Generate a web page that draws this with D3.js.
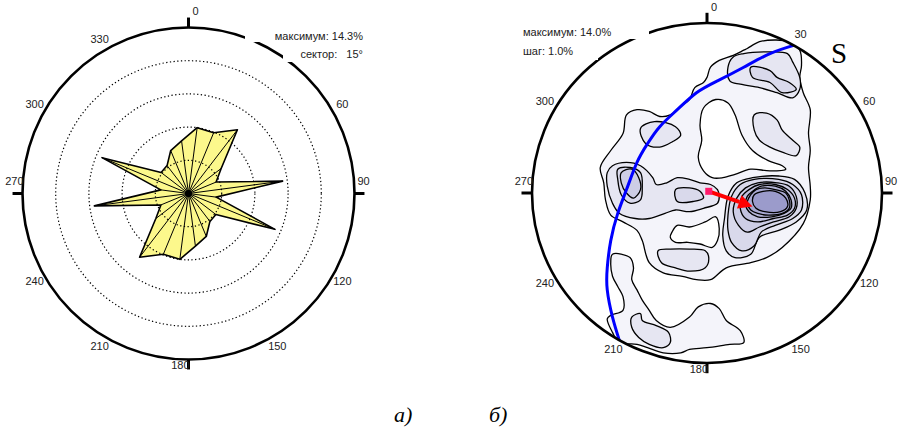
<html>
  <head>
    <script src="https://d3js.org/d3.v7.min.js"></script>
    <style>
      body { margin: 0; background: #fff; }
      text { font-family: "Liberation Sans", Arial, sans-serif; }
    </style>
  </head>
  <body>
<div id="my_dataviz"></div>
<script>
// ---- data: rose diagram (a) ----
// sector centres, 15 degree sectors
var sectorAngles = [7.5, 22.5, 37.5, 52.5, 67.5, 82.5, 97.5, 112.5, 127.5, 142.5, 157.5, 172.5,
                    187.5, 202.5, 217.5, 232.5, 247.5, 262.5, 277.5, 292.5, 307.5, 322.5, 337.5, 352.5];
// percent per sector (axial data, so the second half repeats the first)
var sectorValues = [10.0, 9.9, 12.1, 6.2, 4.5, 14.3, 4.2, 14.1, 5.2, 5.3, 7.0, 8.0,
                    10.0, 9.9, 12.1, 6.2, 4.5, 14.3, 4.2, 14.1, 5.2, 5.3, 7.0, 8.0];
var roseRings = [5, 10, 15, 20];
var roseLabels = ["0", "60", "90", "120", "150", "180", "210", "240", "270", "300", "330"];
var roseInfo = ["максимум: 14.3%", "сектор:   15°"];

// ---- data: contour diagram (б), points in % of net radius (east, north) ----
var stereoLabels = ["0", "30", "60", "90", "120", "150", "180", "210", "240", "270", "300"];
var stereoInfo = ["максимум: 14.0%", "шаг: 1.0%"];

var levelOneMain = [[23,85],[30,89],[39,90],[47,89],[53,84],[54,75],[53,68],[55,59],[59,49],[58,35],[59,25],[58,15],[59,4],[59,-4],[55,-18],[43,-32],[34,-38],[25,-41],[11,-44],[2,-51],[-6,-51],[-14,-49],[-25,-47],[-33,-41],[-37,-28],[-40,-22],[-48,-17],[-55,-13],[-58,-4],[-59,6],[-61,15],[-55,25],[-48,35],[-46,46],[-40,49],[-33,48],[-27,45],[-21,46],[-15,51],[-10,55],[-7,62],[-2,65],[0,68],[2,74],[7,78],[15,81],[21,84]];
var levelOneSouth = [[-54,-36],[-44,-38],[-42,-44],[-43,-51],[-40,-57],[-37,-63],[-33,-69],[-29,-75],[-21,-79],[-10,-73],[-5,-67],[2,-65],[7,-68],[11,-75],[19,-81],[21,-88],[13,-89],[0,-91],[-10,-92],[-15,-94],[-25,-94],[-34,-91],[-40,-89],[-50,-88],[-54,-82],[-57,-74],[-55,-72],[-48,-69],[-48,-61],[-51,-55],[-54,-49],[-55,-41]];
var holeMiddle = [[-4,40],[-2,50],[5,55],[12,53],[16,46],[20,34],[26,25],[35,19],[43,16],[45,14],[36,13],[25,14],[16,11],[9,9],[3,9],[-2,13],[-5,21],[-3,31]];
var holeLower = [[-20,-23],[-17,-19],[-10,-20],[-1,-17],[5,-14],[7,-21],[6,-28],[3,-32],[-4,-30],[-11,-29],[-18,-29],[-21,-26]];

var levelTwoRidge = [[-57,12],[-54,16],[-46,18],[-38,16],[-31,9],[-29,5],[-23,6],[-17,9],[-10,8],[-4,6],[2,5],[6,2],[7,-2],[6,-6],[-2,-9],[-10,-11],[-18,-10],[-24,-12],[-33,-15],[-41,-15],[-50,-12],[-54,-6],[-57,4]];
var levelTwoLens = [[-38,38],[-30,42],[-18,39],[-15,34],[-20,30],[-27,27],[-35,29]];
var levelTwoNorth = [[12,74],[13,66],[19,64],[30,62],[40,59],[49,56],[53,61],[53,68],[49,77],[46,82],[34,83],[21,82],[15,80]];
var levelTwoEast = [[27,46],[34,47],[40,43],[43,37],[49,31],[53,27],[51,22],[43,24],[36,27],[30,31],[27,37]];
var levelTwoOval = [[-28,-34],[-21,-33],[-10,-33],[-1,-34],[1,-38],[-1,-44],[-10,-46],[-18,-44],[-26,-41]];
var levelTwoSouth = [[-43,-73],[-38,-71],[-37,-75],[-29,-78],[-22,-82],[-21,-88],[-25,-91],[-33,-89],[-39,-85],[-43,-79]];
var levelTwoMain = [[10,-15],[12,-2],[17,6],[26,9],[41,10],[50,8],[56,0],[57,-10],[51,-17],[41,-22],[30,-26],[25,-36],[16,-38],[11,-34],[9,-25]];

var levelThreeNorth = [[25,74],[36,72],[40,68],[47,65],[51,61],[43,59],[36,65],[26,68]];
var levelThreeWest = [[-51,14],[-44,15],[-38,12],[-37,3],[-38,-4],[-44,-6],[-49,-1],[-51,8]];
var levelThreeRidge = [[-18,2],[-10,3],[-4,1],[-2,-3],[-8,-5],[-17,-5]];
var levelThreeMain = [[12,-13],[14,-2],[19,5],[27,8],[41,8],[49,5],[54,-1],[54,-10],[49,-15],[39,-19],[31,-23],[27,-31],[20,-34],[14,-29],[12,-22]];

var levelFourWest = [[-49,12],[-43,14],[-39,9],[-38,2],[-42,-3],[-46,0],[-49,6]];
var levelFourMain = [[15,-11],[17,-3],[22,3],[29,6],[40,6],[47,4],[51,-2],[51,-9],[47,-14],[38,-17],[30,-20],[23,-23],[18,-19]];
var levelFiveMain = [[19,-9],[20,-2],[24,2],[30,5],[39,5],[46,2],[50,-3],[50,-9],[46,-13],[38,-15],[29,-17],[22,-15]];
var levelSixMain = [[22,-7],[23,-2],[26,1],[31,4],[39,4],[45,1],[48,-4],[48,-9],[44,-12],[37,-14],[29,-14],[24,-11]];
var levelSevenMain = [[23,-6],[25,-1],[28,2],[33,3],[39,2],[45,0],[47,-4],[47,-9],[43,-12],[35,-13],[29,-12],[25,-10]];
var levelCoreMain = [[26,-5],[27,-1],[32,1],[39,1],[45,-3],[46,-8],[42,-11],[33,-11],[28,-9]];

var greatCircle = [[50,87],[36,82],[21,74],[6,66],[-6,59],[-17,49],[-27,39],[-34,29],[-40,18],[-46,2],[-51,-12],[-55,-28],[-57,-44],[-57,-57],[-54,-73],[-50,-87]];
var arrowFrom = [1, 1];
var arrowTo = [26, -8];

var levelFills = ["#ffffff", "#f4f4fa", "#e6e6f2", "#d9d9eb", "#cdcde5", "#c1c1de", "#b5b5d7", "#a9a9d1", "#9b9bcb"];

var svg = d3.select("#my_dataviz")
  .append("svg")
    .attr("width", 898)
    .attr("height", 427);

// ================= (a) rose diagram =================
var roseCx = 188.5, roseCy = 193.5, roseR = 166;
var lx = d3.scaleLinear().domain([-100, 100]).range([roseCx - roseR, roseCx + roseR]);
var ly = d3.scaleLinear().domain([-100, 100]).range([roseCy + roseR, roseCy - roseR]);
var rr = d3.scaleLinear().domain([0, 25]).range([0, roseR]);

var rose = svg.append("g").attr("transform", "translate(" + roseCx + "," + roseCy + ")");
var roseData = sectorAngles.map(function (a, i) { return {angle: a, value: sectorValues[i]}; });

rose.append("path")
  .datum(roseData)
  .attr("d", d3.lineRadial()
      .angle(function (d) { return d.angle * Math.PI / 180; })
      .radius(function (d) { return rr(d.value); })
      .curve(d3.curveLinearClosed))
  .attr("fill", "#fcf88c")
  .attr("stroke", "black")
  .attr("stroke-width", 1.6)
  .attr("stroke-linejoin", "round");

rose.selectAll(".spoke")
  .data(roseData)
  .enter()
  .append("line")
    .attr("x1", 0).attr("y1", 0)
    .attr("x2", function (d) { return rr(d.value) * Math.sin(d.angle * Math.PI / 180); })
    .attr("y2", function (d) { return -rr(d.value) * Math.cos(d.angle * Math.PI / 180); })
    .attr("stroke", "black")
    .attr("stroke-width", 1);

rose.append("circle").attr("r", 3.5).attr("fill", "black");

rose.selectAll(".ring")
  .data(roseRings)
  .enter()
  .append("circle")
    .attr("r", function (d) { return rr(d); })
    .attr("fill", "none")
    .attr("stroke", "black")
    .attr("stroke-width", 1.2)
    .attr("stroke-dasharray", "1.3,2.4");

drawFrame(lx, ly, roseCx, roseCy, roseR, roseR, roseLabels);

// ================= (б) contour diagram =================
var netCx = 707, netCy = 193, netRx = 175, netRy = 170;
var x = d3.scaleLinear().domain([-100, 100]).range([netCx - netRx, netCx + netRx]);
var y = d3.scaleLinear().domain([-100, 100]).range([netCy + netRy, netCy - netRy]);

svg.append("clipPath").attr("id", "net")
  .append("ellipse")
    .attr("cx", netCx).attr("cy", netCy).attr("rx", netRx).attr("ry", netRy);

var contours = [
  [levelOneMain, 1], [levelOneSouth, 1], [holeMiddle, 0], [holeLower, 0],
  [levelTwoRidge, 2], [levelTwoLens, 2], [levelTwoNorth, 2], [levelTwoEast, 2],
  [levelTwoOval, 2], [levelTwoSouth, 2], [levelTwoMain, 2],
  [levelThreeNorth, 3], [levelThreeWest, 3], [levelThreeRidge, 3], [levelThreeMain, 3],
  [levelFourWest, 4], [levelFourMain, 4], [levelFiveMain, 5], [levelSixMain, 6],
  [levelSevenMain, 7], [levelCoreMain, 8]
];

var ring = d3.line()
  .x(function (d) { return x(d[0]); })
  .y(function (d) { return y(d[1]); })
  .curve(d3.curveCatmullRomClosed.alpha(0.5));

var net = svg.append("g").attr("clip-path", "url(#net)");
net.selectAll(".contour")
  .data(contours)
  .enter()
  .append("path")
    .attr("d", function (d) { return ring(d[0]); })
    .attr("fill", function (d) { return levelFills[d[1]]; })
    .attr("stroke", "black")
    .attr("stroke-width", 1.3);

// great circle
net.append("path")
  .datum(greatCircle)
  .attr("d", d3.line()
      .x(function (d) { return x(d[0]); })
      .y(function (d) { return y(d[1]); })
      .curve(d3.curveNatural))
  .attr("fill", "none")
  .attr("stroke", "#0000ff")
  .attr("stroke-width", 3);

// arrow
var ax0 = x(arrowFrom[0]), ay0 = y(arrowFrom[1]), ax1 = x(arrowTo[0]), ay1 = y(arrowTo[1]);
var ang = Math.atan2(ay1 - ay0, ax1 - ax0);
var headLen = 14, headW = 7;
var bx = ax1 - headLen * Math.cos(ang), by = ay1 - headLen * Math.sin(ang);
svg.append("line")
  .attr("x1", ax0).attr("y1", ay0).attr("x2", bx).attr("y2", by)
  .attr("stroke", "#ff0000").attr("stroke-width", 4);
svg.append("path")
  .attr("d", "M" + ax1 + "," + ay1 +
        "L" + (bx + headW * Math.sin(ang)) + "," + (by - headW * Math.cos(ang)) +
        "L" + (bx - headW * Math.sin(ang)) + "," + (by + headW * Math.cos(ang)) + "Z")
  .attr("fill", "#ff0000");
svg.append("rect")
  .attr("x", ax0 - 3.5).attr("y", ay0 - 3.5).attr("width", 7).attr("height", 7)
  .attr("fill", "#ff1a6a");

drawFrame(x, y, netCx, netCy, netRx, netRy, stereoLabels);

// ---- info boxes (white background hides part of the circle) ----
svg.append("rect").attr("x", 245).attr("y", 26).attr("width", 122).attr("height", 16).attr("fill", "white");
svg.append("rect").attr("x", 283).attr("y", 46).attr("width", 84).attr("height", 16).attr("fill", "white");
svg.append("text").attr("x", 363).attr("y", 37.5).attr("text-anchor", "end").attr("dominant-baseline", "middle")
  .style("font-size", "11px").style("white-space", "pre").attr("fill", "#222").text(roseInfo[0]);
svg.append("text").attr("x", 363).attr("y", 55).attr("text-anchor", "end").attr("dominant-baseline", "middle")
  .style("font-size", "11px").style("white-space", "pre").attr("fill", "#222").text(roseInfo[1]);

svg.append("rect").attr("x", 518).attr("y", 22).attr("width", 131).attr("height", 17).attr("fill", "white");
svg.append("rect").attr("x", 518).attr("y", 44).attr("width", 80).attr("height", 16).attr("fill", "white");
svg.append("text").attr("x", 523).attr("y", 33.5).attr("dominant-baseline", "middle")
  .style("font-size", "11px").attr("fill", "#222").text(stereoInfo[0]);
svg.append("text").attr("x", 523).attr("y", 52.5).attr("dominant-baseline", "middle")
  .style("font-size", "11px").attr("fill", "#222").text(stereoInfo[1]);

// plane label and panel captions
svg.append("text").attr("x", 831).attr("y", 63)
  .style("font-family", "'Liberation Serif', 'Times New Roman', serif").style("font-size", "29px")
  .text("S");
svg.append("text").attr("x", 394).attr("y", 422)
  .style("font-family", "'Liberation Serif', 'Times New Roman', serif").style("font-size", "22px").style("font-style", "italic")
  .text("а)");
svg.append("text").attr("x", 489).attr("y", 422)
  .style("font-family", "'Liberation Serif', 'Times New Roman', serif").style("font-size", "22px").style("font-style", "italic")
  .text("б)");

// outer circle, cardinal ticks and azimuth labels
function drawFrame(sx, sy, cx, cy, rx, ry, labels) {
  svg.append("ellipse")
    .attr("cx", cx).attr("cy", cy).attr("rx", rx).attr("ry", ry)
    .attr("fill", "none").attr("stroke", "black").attr("stroke-width", 2.6);

  [0, 90, 180, 270].forEach(function (a) {
    var s = Math.sin(a * Math.PI / 180), c = Math.cos(a * Math.PI / 180);
    svg.append("line")
      .attr("x1", sx(s * 100)).attr("y1", sy(c * 100))
      .attr("x2", sx(s * 106)).attr("y2", sy(c * 106))
      .attr("stroke", "black").attr("stroke-width", 3);
  });

  labels.forEach(function (t) {
    var a = +t, s = Math.sin(a * Math.PI / 180), c = Math.cos(a * Math.PI / 180);
    var px = sx(s * 107), py = sy(c * 107), anchor = "middle";
    if (a === 0) { px = cx + 4; py = cy - ry - 15; anchor = "start"; }
    if (a === 90) { px = cx + rx + 3; py = cy - 11; anchor = "start"; }
    if (a === 180) { px = cx + 1; py = cy + ry + 7; anchor = "end"; }
    if (a === 270) { px = cx - rx + 1; py = cy - 11; anchor = "end"; }
    svg.append("text")
      .attr("x", px).attr("y", py)
      .attr("text-anchor", anchor)
      .attr("dominant-baseline", "middle")
      .style("font-size", "11px")
      .attr("fill", "#222")
      .text(t);
  });
}
</script>
  </body>
</html>
